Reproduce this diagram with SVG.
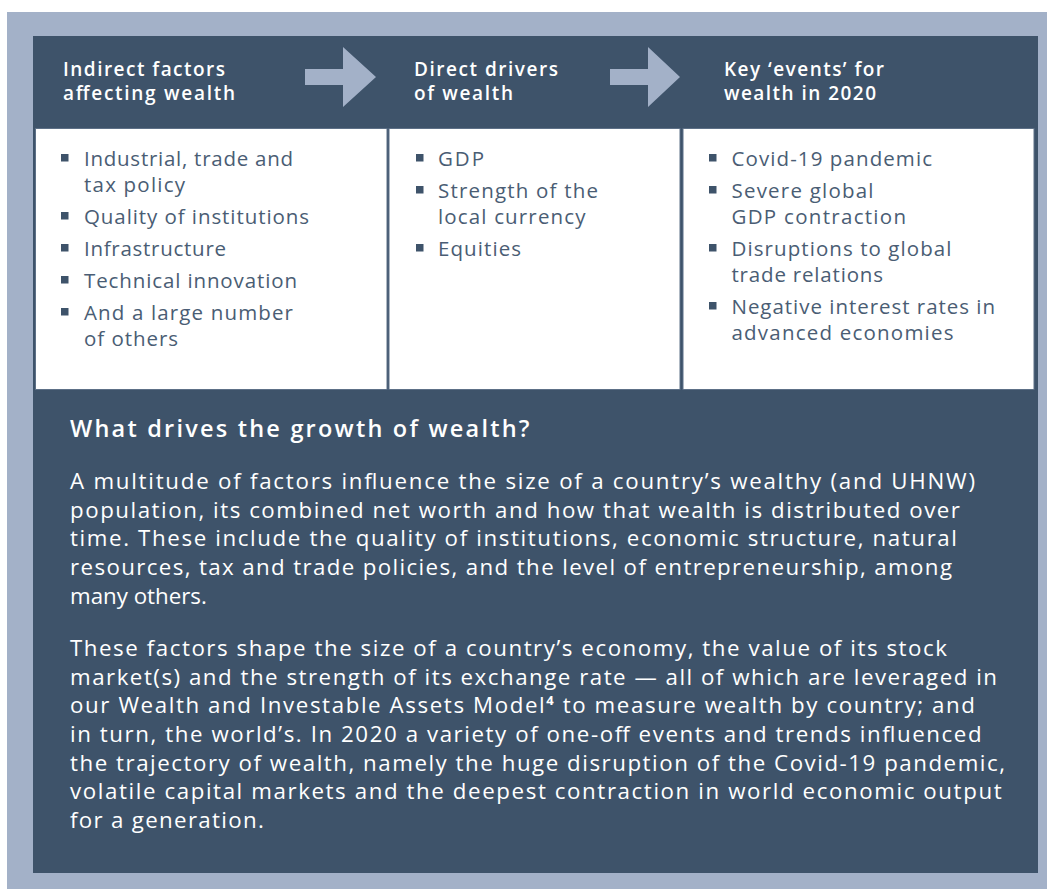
<svg xmlns="http://www.w3.org/2000/svg" width="1047" height="889" viewBox="0 0 1047 889">
<style>
.frame{fill:#a3b1c8}
.panel{fill:#3e536a}
.box{fill:#ffffff;stroke:#5d7087;stroke-width:1}
.hd{font-family:"Open Sans","Liberation Sans",sans-serif;font-weight:600;font-size:19px;fill:#ffffff}
.li{font-family:"Open Sans","Liberation Sans",sans-serif;font-weight:400;font-size:20.5px;fill:#4a5d74}
.bul{fill:#3e536a}
.ttl{font-family:"Open Sans","Liberation Sans",sans-serif;font-weight:600;font-size:23.5px;fill:#ffffff}
.p{font-family:"Open Sans","Liberation Sans",sans-serif;font-weight:400;font-size:22.3px;fill:#ffffff}
.arrow{fill:#a3b1c8}
</style>
<rect class="frame" x="7" y="12" width="1040" height="877"/>
<rect class="panel" x="33" y="36" width="1005" height="837"/>

<g id="col1">
  <text class="hd" x="63" y="76" textLength="162" lengthAdjust="spacing">Indirect factors</text>
  <text class="hd" x="63" y="100" textLength="172" lengthAdjust="spacing">affecting wealth</text>
  <rect class="box" x="35.5" y="128.5" width="351.5" height="261"/>
  <rect class="bul" x="61" y="154" width="7.5" height="7.5"/>
  <text class="li" x="84" y="166" textLength="209" lengthAdjust="spacing">Industrial, trade and</text>
  <text class="li" x="84" y="192" textLength="101" lengthAdjust="spacing">tax policy</text>
  <rect class="bul" x="61" y="212" width="7.5" height="7.5"/>
  <text class="li" x="84" y="224" textLength="225" lengthAdjust="spacing">Quality of institutions</text>
  <rect class="bul" x="61" y="244" width="7.5" height="7.5"/>
  <text class="li" x="84" y="256" textLength="142" lengthAdjust="spacing">Infrastructure</text>
  <rect class="bul" x="61" y="276" width="7.5" height="7.5"/>
  <text class="li" x="84" y="288" textLength="213" lengthAdjust="spacing">Technical innovation</text>
  <rect class="bul" x="61" y="308" width="7.5" height="7.5"/>
  <text class="li" x="84" y="320" textLength="209" lengthAdjust="spacing">And a large number</text>
  <text class="li" x="84" y="346" textLength="94" lengthAdjust="spacing">of others</text>
</g>

<g id="col2">
  <text class="hd" x="414" y="76" textLength="144" lengthAdjust="spacing">Direct drivers</text>
  <text class="hd" x="414" y="100" textLength="99" lengthAdjust="spacing">of wealth</text>
  <rect class="box" x="389" y="128.5" width="291" height="261"/>
  <rect class="bul" x="416" y="154" width="7.5" height="7.5"/>
  <text class="li" x="438" y="166" textLength="46" lengthAdjust="spacing">GDP</text>
  <rect class="bul" x="416" y="186" width="7.5" height="7.5"/>
  <text class="li" x="438" y="198" textLength="160" lengthAdjust="spacing">Strength of the</text>
  <text class="li" x="438" y="224" textLength="147.5" lengthAdjust="spacing">local currency</text>
  <rect class="bul" x="416" y="244" width="7.5" height="7.5"/>
  <text class="li" x="438" y="256" textLength="83" lengthAdjust="spacing">Equities</text>
</g>

<g id="col3">
  <text class="hd" x="724" y="76" textLength="160" lengthAdjust="spacing">Key ‘events’ for</text>
  <text class="hd" x="724" y="100" textLength="152" lengthAdjust="spacing">wealth in 2020</text>
  <rect class="box" x="683" y="128.5" width="351" height="261"/>
  <rect class="bul" x="709" y="154" width="7.5" height="7.5"/>
  <text class="li" x="731.5" y="166" textLength="200.5" lengthAdjust="spacing">Covid-19 pandemic</text>
  <rect class="bul" x="709" y="186" width="7.5" height="7.5"/>
  <text class="li" x="731.5" y="198" textLength="142" lengthAdjust="spacing">Severe global</text>
  <text class="li" x="731.5" y="224" textLength="174.5" lengthAdjust="spacing">GDP contraction</text>
  <rect class="bul" x="709" y="244" width="7.5" height="7.5"/>
  <text class="li" x="731.5" y="256" textLength="220" lengthAdjust="spacing">Disruptions to global</text>
  <text class="li" x="731.5" y="282" textLength="151.5" lengthAdjust="spacing">trade relations</text>
  <rect class="bul" x="709" y="302" width="7.5" height="7.5"/>
  <text class="li" x="731.5" y="314" textLength="263.5" lengthAdjust="spacing">Negative interest rates in</text>
  <text class="li" x="731.5" y="340" textLength="222" lengthAdjust="spacing">advanced economies</text>
</g>

<g id="connectors">
  <polygon class="arrow" points="305,69 343,69 343,47 376,77 343,107 343,85 305,85"/>
  <polygon class="arrow" points="610,69 648,69 648,47 680,77 648,107 648,85 610,85"/>
</g>

<g id="summary">
  <text class="ttl" x="70" y="437" textLength="459.5" lengthAdjust="spacing">What drives the growth of wealth?</text>
  <text class="p" x="70" y="489" textLength="905" lengthAdjust="spacing">A multitude of factors influence the size of a country’s wealthy (and UHNW)</text>
  <text class="p" x="70" y="517.7" textLength="890" lengthAdjust="spacing">population, its combined net worth and how that wealth is distributed over</text>
  <text class="p" x="70" y="546.3" textLength="887" lengthAdjust="spacing">time. These include the quality of institutions, economic structure, natural</text>
  <text class="p" x="70" y="575" textLength="882" lengthAdjust="spacing">resources, tax and trade policies, and the level of entrepreneurship, among</text>
  <text class="p" x="70" y="603.7">many others.</text>
  <text class="p" x="70" y="656" textLength="877" lengthAdjust="spacing">These factors shape the size of a country’s economy, the value of its stock</text>
  <text class="p" x="70" y="684.7" textLength="927" lengthAdjust="spacing">market(s) and the strength of its exchange rate — all of which are leveraged in</text>
  <text class="p" x="70" y="713.3" textLength="905" lengthAdjust="spacing">our Wealth and Investable Assets Model<tspan font-weight="700" font-size="13px" dy="-8">4</tspan><tspan dy="8"> to measure wealth by country; and</tspan></text>
  <text class="p" x="70" y="742" textLength="911.6" lengthAdjust="spacing">in turn, the world’s. In 2020 a variety of one-off events and trends influenced</text>
  <text class="p" x="70" y="770.7" textLength="935" lengthAdjust="spacing">the trajectory of wealth, namely the huge disruption of the Covid-19 pandemic,</text>
  <text class="p" x="70" y="799.3" textLength="931.6" lengthAdjust="spacing">volatile capital markets and the deepest contraction in world economic output</text>
  <text class="p" x="70" y="828" textLength="193.8" lengthAdjust="spacing">for a generation.</text>
</g>
</svg>
